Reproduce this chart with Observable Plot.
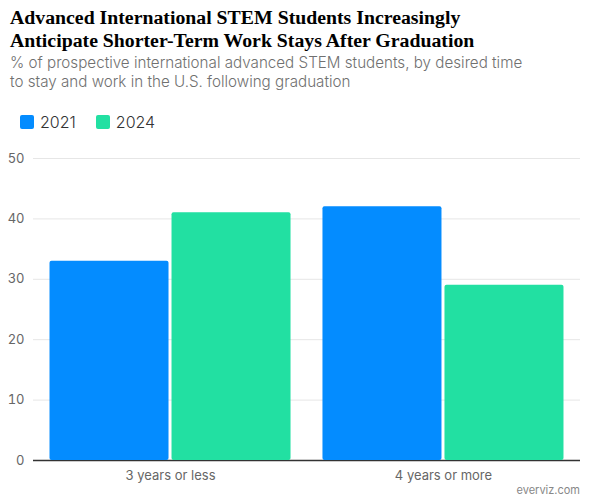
<!DOCTYPE html>
<html>
<head>
<meta charset="utf-8">
<script src="https://cdn.jsdelivr.net/npm/d3@7"></script>
<script src="https://cdn.jsdelivr.net/npm/@observablehq/plot@0.6"></script>
<style>
  html, body { margin: 0; padding: 0; background: #fff; }
  body { width: 590px; height: 500px; position: relative; overflow: hidden; font-family: Inter, "Noto Sans", sans-serif; }
  #title { position: absolute; left: 10px; top: 6px; font-family: "Liberation Serif", serif; font-weight: bold; font-size: 19.8px; line-height: 23px; color: #000; }
  #subtitle { position: absolute; left: 10px; top: 54px; font-size: 15.2px; line-height: 18.5px; color: #707070; font-weight: 300; }
  #legend { position: absolute; left: 20px; top: 112px; display: flex; gap: 20px; font-size: 16px; color: #333; font-weight: 300; }
  #legend .item { display: flex; align-items: center; gap: 6px; }
  #legend .sw { width: 14px; height: 14px; border-radius: 2px; display: inline-block; }
  #chart, #bars { position: absolute; left: 0; top: 140px; }
  #credit { position: absolute; right: 10px; top: 483px; font-size: 11px; color: #888; }
</style>
</head>
<body>
<div id="title">Advanced International STEM Students Increasingly<br>Anticipate Shorter-Term Work Stays After Graduation</div>
<div id="subtitle">% of prospective international advanced STEM students, by desired time<br>to stay and work in the U.S. following graduation</div>
<div id="legend"></div>
<div id="chart"></div>
<div id="bars"></div>
<div id="credit">everviz.com</div>
<script>
const categories = ["3 years or less", "4 years or more"];
const years = ["2021", "2024"];
const values2021 = [33, 42];
const values2024 = [41, 29];
const yTicks = [0, 10, 20, 30, 40, 50];
const colors = ["#048cff", "#22e0a2"];

const data = [];
categories.forEach((c, i) => {
  data.push({category: c, year: years[0], value: values2021[i]});
  data.push({category: c, year: years[1], value: values2024[i]});
});

const legend = document.getElementById("legend");
years.forEach((y, i) => {
  const it = document.createElement("div");
  it.className = "item";
  it.innerHTML = `<span class="sw" style="background:${colors[i]}"></span><span>${y}</span>`;
  legend.appendChild(it);
});

const common = {
  width: 590,
  height: 360,
  marginTop: 18,
  marginBottom: 40,
  marginLeft: 33,
  marginRight: 10,
  style: {fontFamily: "Inter, 'Noto Sans', sans-serif", fontSize: "13px", color: "#666", background: "transparent"}
};

// Background: grid lines, baseline and y axis spanning the full width
const back = Plot.plot({
  ...common,
  y: {domain: [0, 50], ticks: yTicks, tickSize: 0, tickPadding: 9, label: null},
  marks: [
    Plot.ruleY(yTicks.filter(t => t > 0), {stroke: "#e6e6e6"}),
    Plot.ruleY([0], {stroke: "#333", strokeWidth: 1.5})
  ]
});
document.getElementById("chart").appendChild(back);

// Foreground: grouped bars and category labels
const bars = Plot.plot({
  ...common,
  fx: {domain: categories, paddingInner: 0.106, paddingOuter: 0.055, round: false, label: null, tickSize: 0, tickPadding: 10, axis: "bottom"},
  x: {domain: years, padding: 0, round: false, axis: null},
  y: {domain: [0, 50], axis: null},
  color: {domain: years, range: colors},
  marks: [
    Plot.barY(data, {fx: "category", x: "year", y: "value", fill: "year", insetLeft: 1.5, insetRight: 1.5, rx: 2})
  ]
});
document.getElementById("bars").appendChild(bars);
</script>
</body>
</html>
